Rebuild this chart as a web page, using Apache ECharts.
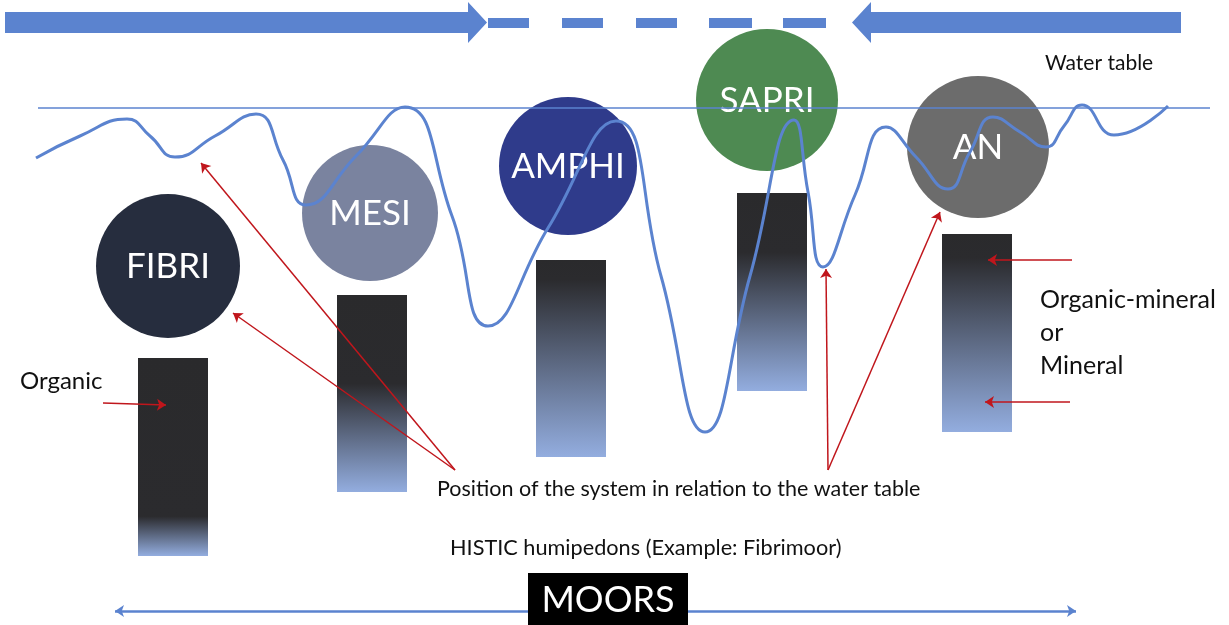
<!DOCTYPE html>
<html>
<head>
<meta charset="utf-8">
<script src="https://cdn.jsdelivr.net/npm/echarts@6/dist/echarts.min.js"></script>
<style>
  html, body { margin: 0; padding: 0; background: #fff; }
  #chart { width: 1229px; height: 625px; }
</style>
</head>
<body>
<div id="chart"></div>
<script>
// ---- data (diagram units = pixels of the original figure, y grows downward) ----
var circleNames = ['FIBRI', 'MESI', 'AMPHI', 'SAPRI', 'AN'];
var circleX = [168, 370, 568, 767, 978];
var circleY = [266, 213, 166, 100, 147];
var circleR = [72, 68, 69, 71, 71];

var barX = [173, 372, 571, 772, 977];
var barTop = [358, 295, 260, 193, 234];
var barBottom = [556, 492, 457, 391, 432];

var waveX = [36, 80, 127, 150, 175, 215, 256, 283, 306, 356, 405, 452, 488, 548, 616, 661, 705, 750, 794, 808, 823, 855, 886, 916, 948, 970, 993, 1020, 1046, 1064, 1082, 1114, 1168];
var waveY = [158, 136, 119, 136, 157, 136, 114, 160, 205, 156, 107, 216, 326, 228, 121, 276, 432, 276, 120, 192, 267, 195, 127, 157, 189, 152, 117, 132, 147, 126, 105, 135, 106];

var waterTableY = 108;
var waterTableX = [38, 1210];

// top block arrows: [tail x, tip x]
var topArrows = [[5, 487], [1181, 852]];
var dashStart = [488, 562, 636, 709, 783];
var dashEnd = [529, 603, 677, 752, 826];

// red pointer arrows: [fromX, fromY, toX, toY]
var pointerArrows = [
  [455, 470, 201, 163],
  [455, 470, 233, 313],
  [828, 470, 826, 269],
  [828, 470, 940, 212],
  [103, 403, 166, 405],
  [1072, 260, 988, 260],
  [1070, 402, 985, 402]
];

var labelTexts = ['Water table', 'Organic', 'Organic-mineral', 'or', 'Mineral',
  'Position of the system in relation to the water table',
  'HISTIC humipedons (Example: Fibrimoor)'];
var labelX = [1045, 20, 1040, 1040, 1040, 437, 450];
var labelY = [63, 381, 300, 333, 366, 489, 548];

var scaleArrowX = [115, 1076];
var scaleArrowY = 611;
var moorsLabel = 'MOORS';
var moorsBox = [528, 573, 688, 625];

// ---- styles ----
var circleColors = ['#262d3e', '#7a839f', '#2f3b8b', '#4e8a52', '#6c6c6c'];
var barFadeStart = [0.8, 0.45, 0.1, 0.3, 0.12];
var labelSizes = [21, 24, 25, 25, 25, 21.5, 21.7];
var blue = '#5b83cf';
var red = '#c0161c';
var fontFamily = 'Lato, "Open Sans", sans-serif';

var chart = echarts.init(document.getElementById('chart'));

function pt(api, x, y) { return api.coord([x, y]); }

var option = {
  animation: false,
  grid: { left: 0, right: 0, top: 0, bottom: 0 },
  xAxis: { type: 'value', min: 0, max: 1229, show: false },
  yAxis: { type: 'value', min: 0, max: 625, inverse: true, show: false },
  series: [
    // soil profile bars
    {
      type: 'custom',
      z: 1,
      data: barX.map(function (x, i) { return [x, barTop[i], barBottom[i]]; }),
      renderItem: function (params, api) {
        var i = params.dataIndex;
        var p0 = pt(api, api.value(0) - 35, api.value(1));
        var p1 = pt(api, api.value(0) + 35, api.value(2));
        return {
          type: 'rect',
          shape: { x: p0[0], y: p0[1], width: p1[0] - p0[0], height: p1[1] - p0[1] },
          style: {
            fill: new echarts.graphic.LinearGradient(0, 0, 0, 1, [
              { offset: 0, color: '#2a2a2c' },
              { offset: barFadeStart[i], color: '#2b2b2e' },
              { offset: 1, color: '#93addf' }
            ])
          }
        };
      }
    },
    // humus form circles
    {
      type: 'custom',
      z: 2,
      data: circleX.map(function (x, i) { return [x, circleY[i], circleR[i]]; }),
      renderItem: function (params, api) {
        var i = params.dataIndex;
        var c = pt(api, api.value(0), api.value(1));
        var r = api.size([api.value(2), 0])[0];
        return {
          type: 'group',
          children: [
            { type: 'circle', shape: { cx: c[0], cy: c[1], r: r }, style: { fill: circleColors[i] } },
            {
              type: 'text',
              style: {
                text: circleNames[i], x: c[0], y: c[1] + 1,
                fill: '#fff', fontSize: 35, fontFamily: fontFamily,
                align: 'center', verticalAlign: 'middle'
              }
            }
          ]
        };
      }
    },
    // top block arrows
    {
      type: 'custom',
      z: 2,
      data: topArrows,
      renderItem: function (params, api) {
        var tail = pt(api, api.value(0), 22.5);
        var tip = pt(api, api.value(1), 22.5);
        var dir = tip[0] > tail[0] ? 1 : -1;
        var hb = tip[0] - dir * 19;
        var y = tip[1];
        return {
          type: 'polygon',
          shape: {
            points: [
              [tail[0], y - 10.5], [hb, y - 10.5], [hb, y - 20.5], [tip[0], y],
              [hb, y + 20.5], [hb, y + 10.5], [tail[0], y + 10.5]
            ]
          },
          style: { fill: blue }
        };
      }
    },
    // dashes
    {
      type: 'custom',
      z: 2,
      data: dashStart.map(function (x, i) { return [x, dashEnd[i]]; }),
      renderItem: function (params, api) {
        var a = pt(api, api.value(0), 23);
        return {
          type: 'rect',
          shape: { x: a[0], y: a[1] - 5, width: api.size([api.value(1) - api.value(0), 0])[0], height: 10 },
          style: { fill: blue }
        };
      }
    },
    // water table line
    {
      type: 'line',
      z: 3,
      symbol: 'none',
      data: waterTableX.map(function (x) { return [x, waterTableY]; }),
      lineStyle: { color: blue, width: 1.5 }
    },
    // water table fluctuation
    {
      type: 'line',
      z: 4,
      symbol: 'none',
      smooth: 0.5,
      data: waveX.map(function (x, i) { return [x, waveY[i]]; }),
      lineStyle: { color: blue, width: 3 }
    },
    // red pointers
    {
      type: 'lines',
      coordinateSystem: 'cartesian2d',
      z: 5,
      symbol: ['none', 'arrow'],
      symbolSize: 9,
      data: pointerArrows.map(function (a) { return { coords: [[a[0], a[1]], [a[2], a[3]]] }; }),
      lineStyle: { color: red, width: 1.5, opacity: 1, curveness: 0 }
    },
    // bottom scale arrow
    {
      type: 'lines',
      coordinateSystem: 'cartesian2d',
      z: 5,
      symbol: ['arrow', 'arrow'],
      symbolSize: 9,
      data: [{ coords: [[scaleArrowX[0], scaleArrowY], [scaleArrowX[1], scaleArrowY]] }],
      lineStyle: { color: blue, width: 2.5, opacity: 1 }
    },
    // MOORS box
    {
      type: 'custom',
      z: 6,
      data: [moorsBox],
      renderItem: function (params, api) {
        var p0 = pt(api, api.value(0), api.value(1));
        var p1 = pt(api, api.value(2), api.value(3));
        return {
          type: 'group',
          children: [
            { type: 'rect', shape: { x: p0[0], y: p0[1], width: p1[0] - p0[0], height: p1[1] - p0[1] }, style: { fill: '#000' } },
            {
              type: 'text',
              style: {
                text: moorsLabel, x: (p0[0] + p1[0]) / 2, y: (p0[1] + p1[1]) / 2 + 1,
                fill: '#fff', fontSize: 36, fontFamily: fontFamily,
                align: 'center', verticalAlign: 'middle'
              }
            }
          ]
        };
      }
    },
    // text labels
    {
      type: 'custom',
      z: 6,
      data: labelX.map(function (x, i) { return [x, labelY[i]]; }),
      renderItem: function (params, api) {
        var i = params.dataIndex;
        var p = pt(api, api.value(0), api.value(1));
        return {
          type: 'text',
          style: {
            text: labelTexts[i], x: p[0], y: p[1],
            fill: '#111', fontSize: labelSizes[i], fontFamily: fontFamily,
            align: 'left', verticalAlign: 'middle'
          }
        };
      }
    }
  ]
};

chart.setOption(option);
</script>
</body>
</html>
